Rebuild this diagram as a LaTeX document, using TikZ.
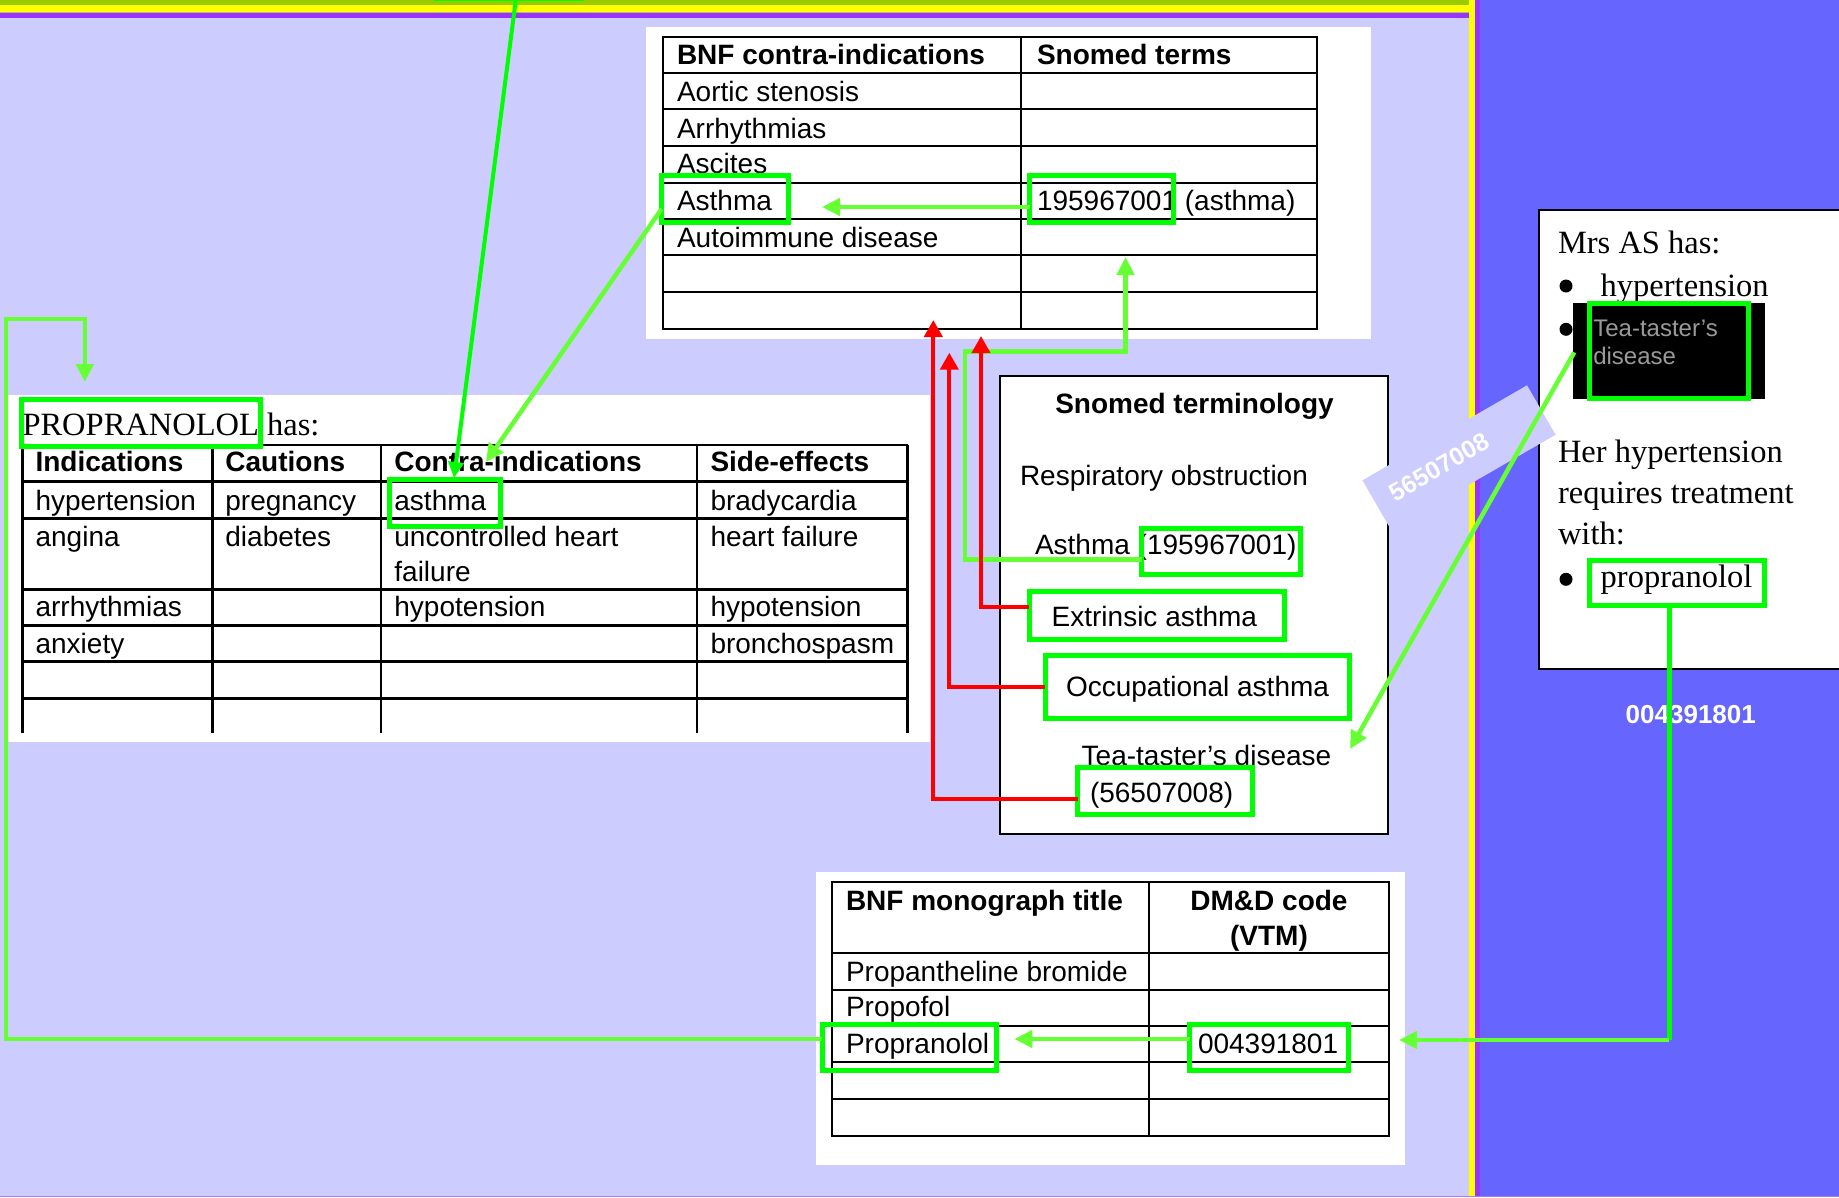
\documentclass[tikz,border=0pt]{standalone}
\usepackage{fontspec}
\setmainfont{Liberation Serif}
\setsansfont{Liberation Sans}
\usetikzlibrary{arrows.meta,calc}
\definecolor{lav}{HTML}{CCCCFF}
\definecolor{blu}{HTML}{6666FF}
\definecolor{olv}{HTML}{99CC00}
\definecolor{yel}{HTML}{FFFF00}
\definecolor{pur}{HTML}{9933FF}
\definecolor{gbr}{HTML}{00FF00}
\definecolor{glt}{HTML}{66FF33}
\definecolor{rd}{HTML}{FF0000}
\definecolor{bline}{HTML}{AA77FF}
\definecolor{thinl}{HTML}{B8B860}
\definecolor{gtext}{HTML}{9A9A9A}
\tikzset{
 tx/.style={anchor=base west, inner sep=0pt, outer sep=0pt, font=\sffamily\fontsize{28}{34}\selectfont},
 th/.style={tx, font=\sffamily\bfseries\fontsize{28}{34}\selectfont},
 tm/.style={anchor=base west, inner sep=0pt, outer sep=0pt, font=\rmfamily\fontsize{32.5}{39}\selectfont},
 gbox/.style={draw=gbr, line width=5pt, inner sep=0pt, outer sep=0pt},
 tline/.style={draw=black, line width=2.5pt},
 lga/.style={draw=glt, line width=4.5pt, -{Triangle[length=18pt,width=17pt]}},
 bga/.style={draw=gbr, line width=4pt, -{Triangle[length=16pt,width=15pt]}},
 rda/.style={draw=rd, line width=4pt, -{Triangle[length=17pt,width=18pt]}},
}
\begin{document}
\begin{tikzpicture}[x=1pt,y=-1pt]
\useasboundingbox (0,0) rectangle (1839,1197);
% ---------- background ----------
\fill[lav] (0,0) rectangle (1480,1197);
\fill[blu] (1480,0) rectangle (1839,1197);
\fill[olv] (0,0) rectangle (1469,5);
\fill[yel] (0,5) rectangle (1469,11.8);
\fill[thinl] (0,11.8) rectangle (1469,12.6);
\fill[pur] (0,12.6) rectangle (1469,17.5);
\fill[yel] (1469,0) rectangle (1474.7,1197);
\fill[pur] (1474.7,0) rectangle (1480,1197);
\fill[bline] (0,1195.7) rectangle (1839,1197);
\node[gbox, minimum width=145pt, minimum height=40pt] (topbox) at (509,-21.5) {};

% ---------- BNF contra-indications table ----------
\fill[white] (646,27) rectangle (1371,339);
\draw[tline] (663,37) rectangle (1317,329);
\draw[tline] (1021,37) -- (1021,329);
\foreach \y in {73,109,146,183,219,255,292} \draw[tline] (663,\y) -- (1317,\y);
\node[th] (t1h1) at (677,64) {BNF contra-indications};
\node[th] (t1h2) at (1037,64) {Snomed terms};
\node[tx] (t1r1) at (677,101.5) {Aortic stenosis};
\node[tx] (t1r2) at (677,138) {Arrhythmias};
\node[tx] (t1r3) at (677,173.5) {Ascites};
\node[tx] (t1r4) at (677,210) {Asthma};
\node[tx] (t1r5) at (677,247.5) {Autoimmune disease};
\node[tx] (t1c4) at (1037,210) {195967001 (asthma)};

% ---------- PROPRANOLOL panel ----------
\fill[white] (7,395) rectangle (930,742);
\node[tm] (ptitle) at (22.5,435) {PROPRANOLOL has:};
\draw[tline] (22.5,445) -- (907.5,445);
\foreach \x in {22.5,212.3,380.8,697,907.5} \draw[tline] (\x,445) -- (\x,733);
\foreach \y in {481.7,518.3,589.3,625.7,661.7,698.3} \draw[tline] (22.5,\y) -- (907.5,\y);
\node[th] (ph1) at (35.6,471.7) {Indications};
\node[th] (ph2) at (225.4,471.7) {Cautions};
\node[th] (ph3) at (394.4,471.7) {Contra-indications};
\node[th] (ph4) at (710.5,471.7) {Side-effects};
\node[tx] (p11) at (35.6,510.5) {hypertension};
\node[tx] (p12) at (225.4,510.5) {pregnancy};
\node[tx] (p13) at (394.4,510.5) {asthma};
\node[tx] (p14) at (710.5,510.5) {bradycardia};
\node[tx] (p21) at (35.6,546.7) {angina};
\node[tx] (p22) at (225.4,546.7) {diabetes};
\node[tx] (p23) at (394.4,546.7) {uncontrolled heart};
\node[tx] (p23b) at (394.4,581.7) {failure};
\node[tx] (p24) at (710.5,546.7) {heart failure};
\node[tx] (p31) at (35.6,616.7) {arrhythmias};
\node[tx] (p33) at (394.4,616.7) {hypotension};
\node[tx] (p34) at (710.5,616.7) {hypotension};
\node[tx] (p41) at (35.6,653) {anxiety};
\node[tx] (p44) at (710.5,653) {bronchospasm};

% ---------- BNF monograph table ----------
\fill[white] (815.5,872) rectangle (1405,1165);
\draw[tline] (832,882) rectangle (1389,1136);
\draw[tline] (1149,882) -- (1149,1136);
\foreach \y in {953,990,1026,1062,1099} \draw[tline] (832,\y) -- (1389,\y);
\node[th] (bh1) at (846,910) {BNF monograph title};
\node[th, anchor=base] (bh2) at (1269,910) {DM\&D code};
\node[th, anchor=base] (bh2b) at (1269,945) {(VTM)};
\node[tx] (b1) at (846,981.7) {Propantheline bromide};
\node[tx] (b2) at (846,1016.7) {Propofol};
\node[tx] (b3) at (846,1053.3) {Propranolol};
\node[tx] (b3c) at (1198,1053.3) {004391801};

% ---------- Snomed terminology box ----------
\draw[fill=white, line width=2.5pt] (1000,376) rectangle (1388,834);
\node[th, anchor=base] (snt) at (1194.5,413.3) {Snomed terminology};
\node[tx] (sn1) at (1020,485) {Respiratory obstruction};
\node[tx] (sn2) at (1035,554) {Asthma (195967001)};
\node[tx] (sn3) at (1051.7,626) {Extrinsic asthma};
\node[tx] (sn4) at (1066,696.7) {Occupational asthma};
\node[tx] (sn5) at (1081.7,765) {Tea-taster’s disease};
\node[tx] (sn6) at (1090,802.7) {(56507008)};

% ---------- Mrs AS box ----------
\draw[fill=white, line width=2.5pt] (1539,210) rectangle (1845,669);
\node[tm] (m1) at (1558,253) {Mrs AS has:};
\fill (1566,286) circle (6.5pt);
\node[tm] (m2) at (1600.7,296) {hypertension};
\fill[black] (1572.7,303) rectangle (1765,398.6);
\fill (1566,329.3) circle (6.5pt);
\node[tx, font=\sffamily\fontsize{24}{28}\selectfont, text=gtext] (m3) at (1593.3,336) {Tea-taster’s};
\node[tx, font=\sffamily\fontsize{24}{28}\selectfont, text=gtext] (m3b) at (1593.3,364) {disease};
\node[tm] (m4) at (1558,462) {Her hypertension};
\node[tm] (m5) at (1558,503) {requires treatment};
\node[tm] (m6) at (1558,544) {with:};
\fill (1566,579.3) circle (6.5pt);
\node[tm] (m7) at (1600.7,587) {propranolol};
\node[anchor=base west, inner sep=0pt, font=\sffamily\bfseries\fontsize{26}{30}\selectfont, text=white] (dmd) at (1625.5,723) {004391801};

% ---------- banner ----------
\node[fill=lav, minimum width=190pt, minimum height=57pt, inner sep=0pt, rotate=30] (banner) at (1459,457.5) {};
\node[font=\sffamily\bfseries\fontsize{25}{30}\selectfont, text=white, inner sep=0pt, rotate=30] (bantext) at (1439,467) {56507008};

% ---------- green boxes ----------
\node[gbox, minimum width=127pt, minimum height=47pt] (a1box) at (725,199) {};
\node[gbox, minimum width=144pt, minimum height=47pt] (code1box) at (1101.5,199) {};
\node[gbox, minimum width=239pt, minimum height=47pt] (propbox) at (141,423) {};
\node[gbox, minimum width=111pt, minimum height=47pt] (pasthma) at (444.9,503) {};
\node[gbox, minimum width=174pt, minimum height=45.5pt] (bprop) at (909.2,1047.5) {};
\node[gbox, minimum width=159pt, minimum height=46pt] (bcode) at (1269,1047.5) {};
\node[gbox, minimum width=158.7pt, minimum height=45.7pt] (snasth) at (1220.85,551.35) {};
\node[gbox, minimum width=255.6pt, minimum height=47.4pt] (extbox) at (1157,615.5) {};
\node[gbox, minimum width=304pt, minimum height=62.4pt] (occbox) at (1197.2,687) {};
\node[gbox, minimum width=175pt, minimum height=47.3pt] (s56box) at (1165,791.2) {};
\node[gbox, minimum width=159.3pt, minimum height=95pt] (mtea) at (1668.85,351.4) {};
\node[gbox, minimum width=175pt, minimum height=45.4pt] (mprop) at (1676.7,582.7) {};

% ---------- connectors ----------
\coordinate (a1tip) at (822,207);
\coordinate (p1tip) at (486,462);
\coordinate (p2tip) at (454,478);
\coordinate (lbtip) at (84.8,382);
\coordinate (bttip) at (1014.3,1039);
\coordinate (mcorner) at (1669,1040);
\coordinate (mrtip) at (1399,1040);
\coordinate (sttip) at (1125.5,257);
\coordinate (rtip1) at (933.3,320);
\coordinate (rtip2) at (949.3,352.7);
\coordinate (rtip3) at (981,336);
\coordinate (teatip) at (1350,749);

\draw[lga] (code1box.west |- a1tip) -- (a1tip);
\draw[lga] ($(a1box.west)+(0,10)$) -- (p1tip);
\draw[bga] ($(topbox.south)+(7,0)$) -- (p2tip);
\draw[lga] ($(bprop.west)+(0,-8.5)$) -| (6,319) -| (lbtip);
\draw[lga] ($(bcode.west)+(0,-8.5)$) -- (bttip);
\draw[draw=gbr, line width=5pt] ($(mprop.south)+(-7.7,0)$) -- (mcorner);
\draw[lga] (mcorner) -- (mrtip);
\draw[lga] ($(snasth.west)+(0,8)$) -| (965,351.7) -| (sttip);
\draw[rda] ($(s56box.west)+(0,8)$) -| (rtip1);
\draw[rda] (occbox.west) -| (rtip2);
\draw[rda] ($(extbox.west)+(0,-8.8)$) -| (rtip3);
\draw[lga] ($(mtea.west)+(-15,1)$) -- (teatip);
\end{tikzpicture}
\end{document}
